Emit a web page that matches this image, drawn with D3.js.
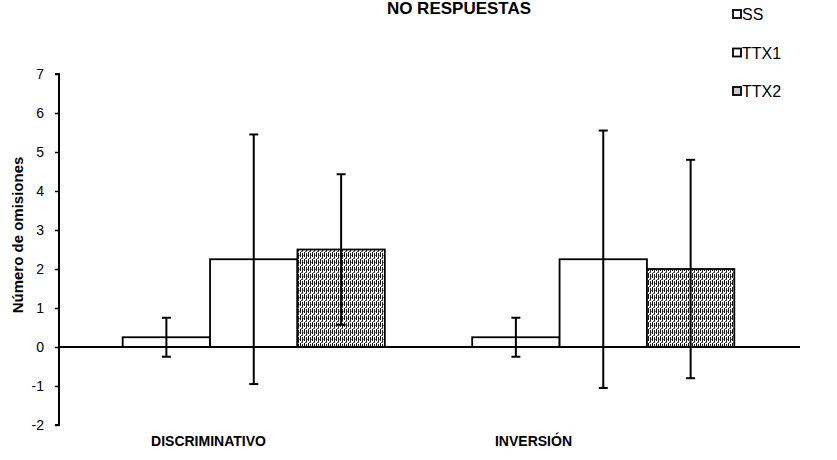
<!DOCTYPE html>
<html>
<head>
<meta charset="utf-8">
<script src="https://cdn.jsdelivr.net/npm/d3@7/dist/d3.min.js"></script>
<style>
  html, body { margin: 0; padding: 0; background: #fff; }
  svg { display: block; font-family: Arial, "Liberation Sans", sans-serif; }
</style>
</head>
<body>
<svg id="chart" width="837" height="460"></svg>
<script>
// Omissions per phase and treatment group (mean and error)
const categories = ["DISCRIMINATIVO", "INVERSIÓN"];
const series = ["SS", "TTX1", "TTX2"];
const ssValues   = [0.25, 0.25];
const ttx1Values = [2.25, 2.25];
const ttx2Values = [2.5, 2.0];
const ssErrors   = [0.5, 0.5];
const ttx1Errors = [3.2, 3.3];
const ttx2Errors = [1.93, 2.8];
const yTicks = [-2, -1, 0, 1, 2, 3, 4, 5, 6, 7];

const values = { SS: ssValues, TTX1: ttx1Values, TTX2: ttx2Values };
const errors = { SS: ssErrors, TTX1: ttx1Errors, TTX2: ttx2Errors };

const svg = d3.select("#chart");

// speckled fill for the TTX2 bars
const defs = svg.append("defs");
const pat = defs.append("pattern")
  .attr("id", "ttxPattern")
  .attr("patternUnits", "userSpaceOnUse")
  .attr("width", 4).attr("height", 7);
pat.append("rect").attr("width", 4).attr("height", 7).attr("fill", "#fff");
pat.append("rect").attr("x", 0).attr("y", 0).attr("width", 1).attr("height", 5).attr("fill", "#111");
pat.append("rect").attr("x", 2).attr("y", 1).attr("width", 1).attr("height", 5).attr("fill", "#222");
pat.append("rect").attr("x", 1).attr("y", 6).attr("width", 2).attr("height", 1).attr("fill", "#555");
pat.append("rect").attr("x", 3).attr("y", 3).attr("width", 1).attr("height", 1).attr("fill", "#777");

const fills = { SS: "#fff", TTX1: "#fff", TTX2: "url(#ttxPattern)" };

const axisLeft = 59, axisRight = 800;
const y = d3.scaleLinear().domain([-2, 7]).range([425, 74]);
const x0 = d3.scaleBand().domain(categories).range([79, 778]).padding(0);
const x1 = d3.scaleBand().domain(series).range([0, x0.bandwidth()])
  .paddingInner(0).paddingOuter(0.5);
// category captions sit on their own band scale
const xLabel = d3.scaleBand().domain(categories).range([46, 696]);

// title
svg.append("text")
  .attr("x", 459).attr("y", 14)
  .attr("text-anchor", "middle")
  .attr("font-size", 17).attr("font-weight", "bold")
  .text("NO RESPUESTAS");

// bars
const rows = [];
categories.forEach((c, i) => series.forEach(s => rows.push({ c, s, v: values[s][i], e: errors[s][i] })));

svg.append("g").selectAll("rect.bar").data(rows).join("rect")
  .attr("class", "bar")
  .attr("x", d => x0(d.c) + x1(d.s))
  .attr("y", d => y(Math.max(0, d.v)))
  .attr("width", x1.bandwidth())
  .attr("height", d => Math.abs(y(d.v) - y(0)))
  .attr("fill", d => fills[d.s])
  .attr("stroke", "#000")
  .attr("stroke-width", 1.8);

// y axis
const yAxis = d3.axisLeft(y).tickValues(yTicks).tickSize(4).tickPadding(11).tickFormat(d => String(d));
const ya = svg.append("g").attr("transform", `translate(${axisLeft},0)`).call(yAxis);
ya.select(".domain").attr("stroke-width", 2).attr("d", `M-4,${y(7)}H0V${y(-2)}H-4`);
ya.selectAll(".tick line").attr("stroke-width", 1.5);
ya.selectAll(".tick text").attr("font-size", 14).attr("font-family", "Arial, 'Liberation Sans', sans-serif").attr("fill", "#000");

// x axis line at zero
svg.append("line")
  .attr("x1", axisLeft).attr("x2", axisRight)
  .attr("y1", y(0)).attr("y2", y(0))
  .attr("stroke", "#000").attr("stroke-width", 2);

// error bars
const eb = svg.append("g").attr("stroke", "#000").attr("stroke-width", 2);
rows.forEach(d => {
  const cx = x0(d.c) + x1(d.s) + x1.bandwidth() / 2;
  const yt = y(d.v + d.e), yb = y(d.v - d.e);
  eb.append("line").attr("x1", cx).attr("x2", cx).attr("y1", yt).attr("y2", yb);
  eb.append("line").attr("x1", cx - 4.5).attr("x2", cx + 4.5).attr("y1", yt).attr("y2", yt);
  eb.append("line").attr("x1", cx - 4.5).attr("x2", cx + 4.5).attr("y1", yb).attr("y2", yb);
});

// category labels
svg.append("g").selectAll("text").data(categories).join("text")
  .attr("x", d => xLabel(d) + xLabel.bandwidth() / 2)
  .attr("y", 446)
  .attr("text-anchor", "middle")
  .attr("font-size", 14).attr("font-weight", "bold")
  .text(d => d);

// y axis title
svg.append("text")
  .attr("transform", "translate(23,235) rotate(-90)")
  .attr("text-anchor", "middle")
  .attr("font-size", 15).attr("font-weight", "bold")
  .text("Número de omisiones");

// legend
const lg = svg.append("g").selectAll("g").data(series).join("g")
  .attr("transform", (d, i) => `translate(733,${20 + i * 38.5})`);
lg.append("rect").attr("x", 0).attr("y", -10).attr("width", 8).attr("height", 8)
  .attr("fill", d => d === "TTX2" ? "#ccc" : "#fff")
  .attr("stroke", "#000").attr("stroke-width", 1.8);
lg.append("text").attr("x", 9).attr("y", 0)
  .attr("font-size", 16)
  .text(d => d);
</script>
</body>
</html>
